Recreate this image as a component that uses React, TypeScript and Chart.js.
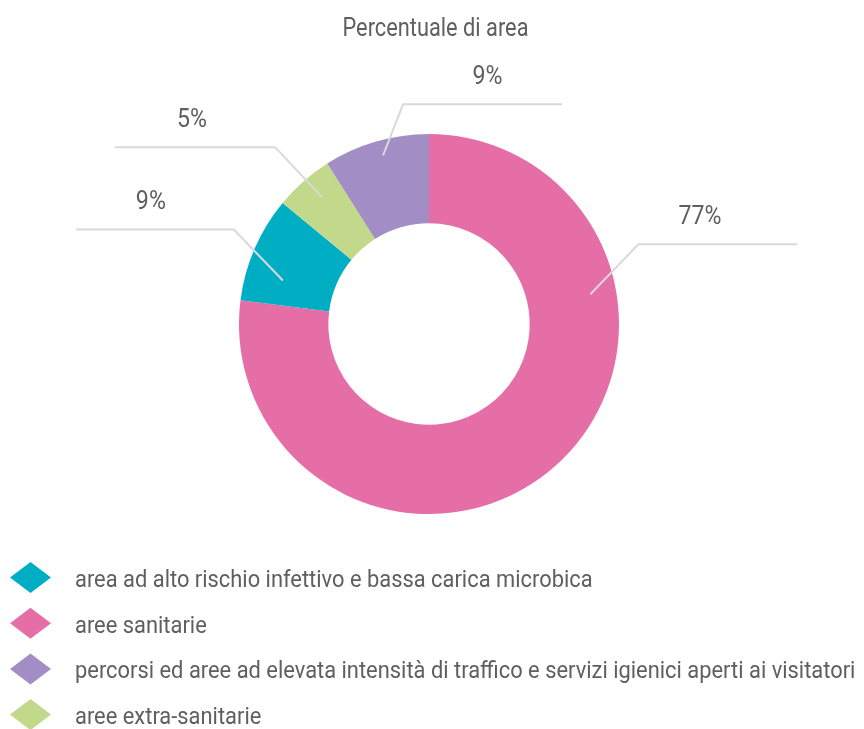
import React, { useEffect, useRef } from "react";
import { Chart, registerables } from "chart.js";

Chart.register(...registerables);

// Data (drawing order, clockwise from top)
const categories = [
  "aree sanitarie",
  "area ad alto rischio infettivo e bassa carica microbica",
  "aree extra-sanitarie",
  "percorsi ed aree ad elevata intensità di traffico e servizi igienici aperti ai visitatori",
];
const values = [77, 9, 5, 9];
const valueLabels = ["77%", "9%", "5%", "9%"];
const colors = ["#E56EA6", "#00AEC4", "#C2D98C", "#A28EC4"];
// Legend order (indices into categories)
const legendOrder = [1, 0, 3, 2];
const chartTitle = "Percentuale di area";

const FONT = "Roboto, 'Noto Sans', sans-serif";
const WEIGHT = "400";
const TEXT_COLOR = "#5f5f5f";
const LINE_COLOR = "#d9d9d9";

// label connector layout (style/position, not data)
const connectorLayout = [
  { pos: 0.287, r: 0.71, dx: 48, dy: -50, len: 159, textDx: -18 },
  { pos: 0.29, r: 0.58, dx: -49, dy: -51, len: -158, textDx: -4 },
  { pos: 0.57, r: 0.73, dx: -47, dy: -50, len: -160, textDx: -3 },
  { pos: 0.53, r: 0.83, dx: 20, dy: -51, len: 159, textDx: 5 },
];

function condensedText(ctx: any, text: string, x: number, y: number, size: number, align: string, sx: number) {
  ctx.save();
  ctx.font = `${WEIGHT} ${size}px ${FONT}`;
  ctx.textAlign = align;
  ctx.textBaseline = "alphabetic";
  ctx.translate(x, y);
  ctx.scale(sx, 1);
  ctx.fillText(text, 0, 0);
  ctx.restore();
}

function widthOf(ctx: any, text: string, size: number) {
  ctx.font = `${WEIGHT} ${size}px ${FONT}`;
  return ctx.measureText(text).width;
}

const overlayPlugin = {
  id: "overlay",
  afterDraw(chart: any) {
    const ctx = chart.ctx;
    const meta = chart.getDatasetMeta(0);
    ctx.save();
    // horizontal condensation factors (emulating a condensed typeface)
    const sxLegend = (513 + 785) / (widthOf(ctx, categories[1], 23) + widthOf(ctx, categories[3], 23));
    const sxTitle = 186 / widthOf(ctx, chartTitle, 26);
    const sxLabel = 43 / widthOf(ctx, valueLabels[0], 26);

    ctx.fillStyle = TEXT_COLOR;
    condensedText(ctx, chartTitle, 435.5, 36, 26, "center", sxTitle);

    // connectors and labels
    meta.data.forEach((arc: any, i: number) => {
      const L = connectorLayout[i];
      const a = arc.startAngle + (arc.endAngle - arc.startAngle) * L.pos;
      const r = arc.innerRadius + (arc.outerRadius - arc.innerRadius) * L.r;
      const ax = arc.x + Math.cos(a) * r;
      const ay = arc.y + Math.sin(a) * r;
      const ex = ax + L.dx;
      const ey = ay + L.dy;
      const hx = ex + L.len;
      ctx.strokeStyle = LINE_COLOR;
      ctx.lineWidth = 2;
      ctx.beginPath();
      ctx.moveTo(ax, ay);
      ctx.lineTo(ex, ey);
      ctx.lineTo(hx, ey);
      ctx.stroke();
      ctx.fillStyle = TEXT_COLOR;
      condensedText(ctx, valueLabels[i], (ex + hx) / 2 + L.textDx, ey - 20, 26, "center", sxLabel);
    });

    // legend
    legendOrder.forEach((idx, row) => {
      const cy = 577.5 + row * 45.7;
      const cx = 30.5;
      ctx.fillStyle = colors[idx];
      ctx.beginPath();
      ctx.moveTo(cx - 20.5, cy);
      ctx.lineTo(cx, cy - 15.5);
      ctx.lineTo(cx + 20.5, cy);
      ctx.lineTo(cx, cy + 15.5);
      ctx.closePath();
      ctx.fill();
      ctx.fillStyle = TEXT_COLOR;
      condensedText(ctx, categories[idx], 75, cy + 9.5, 23, "left", sxLegend);
    });
    ctx.restore();
  },
};

export default function App() {
  const ref = useRef<HTMLCanvasElement>(null);
  useEffect(() => {
    if (!ref.current) return;
    const chart = new Chart(ref.current, {
      type: "doughnut",
      data: {
        labels: categories,
        datasets: [
          {
            data: values,
            backgroundColor: colors,
            borderWidth: 0,
          },
        ],
      },
      options: {
        responsive: false,
        animation: false,
        cutout: "53%",
        layout: { padding: { left: 239, right: 245, top: 134, bottom: 215 } },
        plugins: {
          legend: { display: false },
          title: { display: false },
          tooltip: { enabled: false },
        },
      },
      plugins: [overlayPlugin],
    });
    return () => chart.destroy();
  }, []);
  return (
    <div style={{ position: "fixed", left: 0, top: 0, width: 864, height: 729, background: "#fff" }}>
      <canvas ref={ref} width={864} height={729} />
    </div>
  );
}
